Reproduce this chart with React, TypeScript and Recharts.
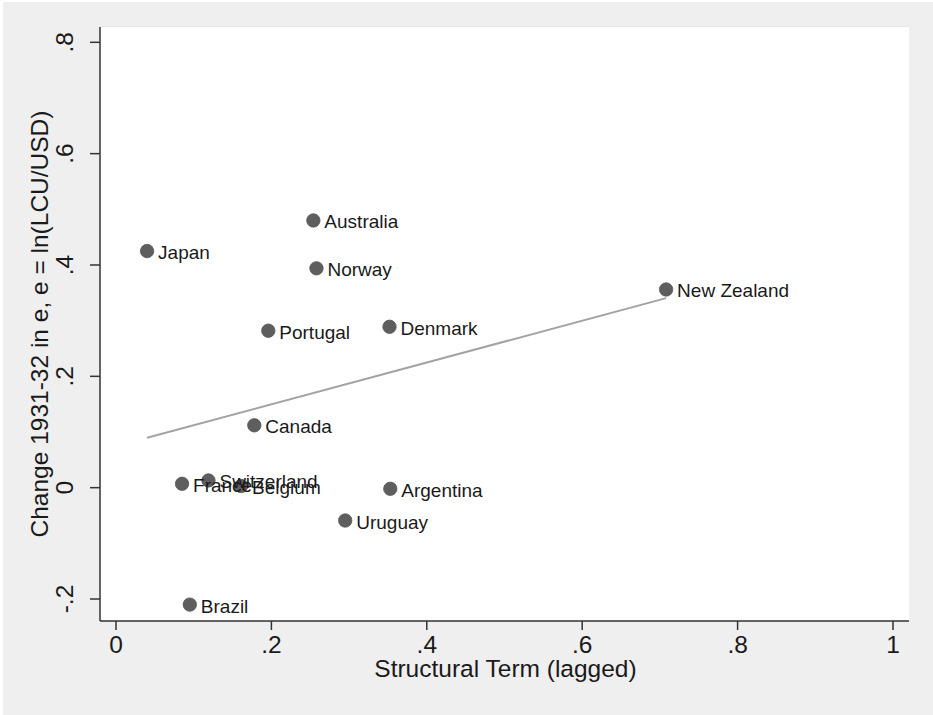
import React from 'react';
import {
  ScatterChart,
  Scatter,
  XAxis,
  YAxis,
  CartesianGrid,
  LabelList,
  Label,
} from 'recharts';

// Country observations: structural term (lagged) vs change in log exchange rate 1931-32
const countries = [
  'Japan',
  'Australia',
  'Norway',
  'New Zealand',
  'Portugal',
  'Denmark',
  'Canada',
  'Switzerland',
  'France',
  'Belgium',
  'Argentina',
  'Uruguay',
  'Brazil',
];
const structuralTerm = [0.04, 0.254, 0.258, 0.708, 0.196, 0.352, 0.178, 0.119, 0.085, 0.161, 0.353, 0.295, 0.095];
const changeInE = [0.425, 0.48, 0.394, 0.356, 0.282, 0.289, 0.112, 0.013, 0.007, 0.003, -0.002, -0.059, -0.21];

// Linear fit endpoints (over the range of the data)
const fitX = [0.04, 0.708];
const fitY = [0.0896, 0.3405];

// Axis ticks
const xTicks = [0, 0.2, 0.4, 0.6, 0.8, 1];
const yTicks = [-0.2, 0, 0.2, 0.4, 0.6, 0.8];

const xTitle = 'Structural Term (lagged)';
const yTitle = 'Change 1931-32 in e, e = ln(LCU/USD)';

const points = countries.map((name, i) => ({ name, x: structuralTerm[i], y: changeInE[i] }));
const fitLine = fitX.map((x, i) => ({ x, y: fitY[i] }));

const FONT = '"Liberation Sans", Arial, Helvetica, sans-serif';
const AXIS_FONT_SIZE = 24.5;
const INK = '#1a1a1a';
const AXIS_COLOR = '#333333';

const fmt = (v: number) => {
  if (v === 0) return '0';
  return String(v).replace('0.', '.');
};

const XTick = (props: any) => {
  const { x, y, payload } = props;
  return (
    <text x={x} y={y + 23} textAnchor="middle" fontFamily={FONT} fontSize={AXIS_FONT_SIZE} fill={INK}>
      {fmt(payload.value)}
    </text>
  );
};

const YTick = (props: any) => {
  const { x, y, payload } = props;
  const bx = x - 17;
  return (
    <text
      x={bx}
      y={y}
      transform={`rotate(-90 ${bx} ${y})`}
      textAnchor="middle"
      fontFamily={FONT}
      fontSize={AXIS_FONT_SIZE}
      fill={INK}
    >
      {fmt(payload.value)}
    </text>
  );
};

const Dot = (props: any) => {
  const { cx, cy } = props;
  return <circle cx={cx} cy={cy} r={6.7} fill="#5e5e5e" stroke="#555555" strokeWidth={0.8} />;
};

const NoShape = () => <g />;

const PointLabel = (props: any) => {
  const { x, y, width, height, value } = props;
  const cx = x + (width || 0) / 2;
  const cy = y + (height || 0) / 2;
  return (
    <text x={cx + 11} y={cy + 8} fontFamily={FONT} fontSize={19} fill={INK}>
      {value}
    </text>
  );
};

const XTitle = (props: any) => {
  const vb = props.viewBox || {};
  const cx = vb.x + vb.width / 2;
  return (
    <text x={cx + 1} y={677} textAnchor="middle" fontFamily={FONT} fontSize={AXIS_FONT_SIZE} fill={INK}>
      {xTitle}
    </text>
  );
};

const YTitle = (props: any) => {
  const vb = props.viewBox || {};
  const cy = vb.y + vb.height / 2;
  const bx = 48;
  return (
    <text
      x={bx}
      y={cy}
      transform={`rotate(-90 ${bx} ${cy})`}
      textAnchor="middle"
      fontFamily={FONT}
      fontSize={AXIS_FONT_SIZE}
      fill={INK}
    >
      {yTitle}
    </text>
  );
};

export default function App() {
  return (
    <div style={{ position: 'absolute', left: 0, top: 0, width: 933, height: 715, background: '#ffffff' }}>
      <div
        style={{ position: 'absolute', left: 3, top: 2, width: 930, height: 713, background: '#efefef' }}
      />
      <div style={{ position: 'absolute', left: 0, top: 0 }}>
        <ScatterChart width={933} height={715} margin={{ top: 27, right: 24, bottom: 0, left: 0 }}>
          <rect x={100} y={27} width={809} height={594} fill="#ffffff" />
          <CartesianGrid vertical={false} stroke="#e6e6e6" strokeWidth={1.5} fill="#ffffff" />
          <XAxis
            type="number"
            dataKey="x"
            domain={[-0.0206, 1.0206]}
            ticks={xTicks}
            height={94}
            tickSize={9}
            tickMargin={0}
            tick={<XTick />}
            axisLine={{ stroke: AXIS_COLOR, strokeWidth: 1.5 }}
            tickLine={{ stroke: AXIS_COLOR, strokeWidth: 1.5 }}
            allowDataOverflow
          >
            <Label content={<XTitle />} />
          </XAxis>
          <YAxis
            type="number"
            dataKey="y"
            domain={[-0.2395, 0.8275]}
            ticks={yTicks}
            width={100}
            tickSize={10}
            tickMargin={0}
            tick={<YTick />}
            axisLine={{ stroke: AXIS_COLOR, strokeWidth: 1.5 }}
            tickLine={{ stroke: AXIS_COLOR, strokeWidth: 1.5 }}
            allowDataOverflow
          >
            <Label content={<YTitle />} />
          </YAxis>
          <Scatter
            data={fitLine}
            line={{ stroke: '#a3a3a3', strokeWidth: 2 }}
            lineType="joint"
            shape={<NoShape />}
            isAnimationActive={false}
          />
          <Scatter data={points} shape={<Dot />} isAnimationActive={false}>
            <LabelList dataKey="name" content={<PointLabel />} />
          </Scatter>
        </ScatterChart>
      </div>
    </div>
  );
}
